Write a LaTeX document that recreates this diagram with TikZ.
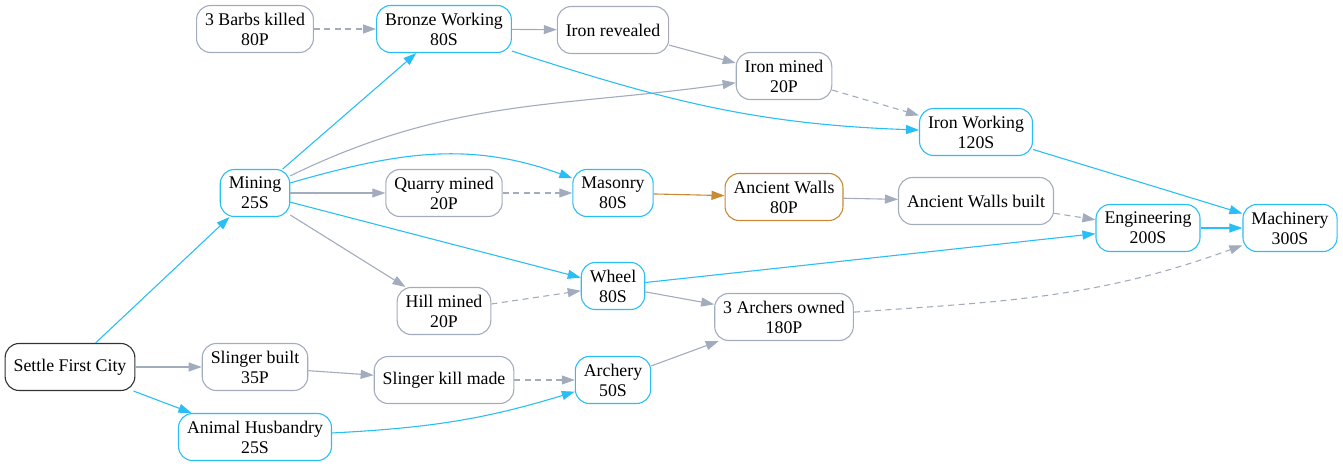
\documentclass[tikz,border=0pt]{standalone}
\usepackage{fontspec}
\setmainfont{Liberation Serif}
\usetikzlibrary{arrows.meta}

\definecolor{techblue}{HTML}{29BFF5}
\definecolor{stepgray}{HTML}{A2ACBD}
\definecolor{wallorange}{HTML}{C98A35}

\begin{document}
\begin{tikzpicture}[
    % GLOBAL CFG
    x=1pt, y=-1pt,
    font=\fontsize{17.8}{20}\selectfont,
    >={Triangle[length=13pt,width=9pt]},
    % Styles
    box/.style={
        rectangle,
        rounded corners=14pt,
        draw,
        line width=1.1pt,
        align=center,
        minimum height=47pt,
        inner xsep=8.5pt,
    },
    start/.style={box, draw=black!80},
    tech/.style={box, draw=techblue},
    goal/.style={box, draw=stepgray},
    wall/.style={box, draw=wallorange},
    techlink/.style={->, draw=techblue, line width=1.1pt},
    goallink/.style={->, draw=stepgray, line width=1.1pt},
    waitlink/.style={->, draw=stepgray, line width=1.1pt, dash pattern=on 6pt off 4.5pt},
    walllink/.style={->, draw=wallorange, line width=1.1pt},
]
\useasboundingbox (0,0) rectangle (1343,466);

% Column 1
    \node [start] (settle) at (70,367) {Settle First City};

% Column 2
    \node [goal] (barbs) at (255,29) {3 Barbs killed\\80P};
    \node [tech] (mining) at (255,193) {Mining\\25S};
    \node [goal] (slinger) at (255,367) {Slinger built\\35P};
    \node [tech] (animal) at (255,437) {Animal Husbandry\\25S};

% Column 3
    \node [tech] (bronze) at (444,29) {Bronze Working\\80S};
    \node [goal] (quarry) at (444,193) {Quarry mined\\20P};
    \node [goal] (hill) at (444,311) {Hill mined\\20P};
    \node [goal] (slingkill) at (444,380) {Slinger kill made};

% Column 4
    \node [goal] (ironrev) at (613,30) {Iron revealed};
    \node [tech] (masonry) at (613,193) {Masonry\\80S};
    \node [tech] (wheel) at (613,286) {Wheel\\80S};
    \node [tech] (archery) at (613,380) {Archery\\50S};

% Column 5
    \node [goal] (ironmined) at (784,76) {Iron mined\\20P};
    \node [wall] (walls) at (784,197) {Ancient Walls\\80P};
    \node [goal] (archers) at (784,317) {3 Archers owned\\180P};

% Column 6
    \node [tech] (ironwork) at (976,132) {Iron Working\\120S};
    \node [goal] (wallsbuilt) at (976,201) {Ancient Walls built};

% Columns 7 and 8
    \node [tech] (engineering) at (1148,228) {Engineering\\200S};
    \node [tech] (machinery) at (1290,228) {Machinery\\300S};

% Connect all
    % From the city
    \draw [techlink] (settle) -- (mining);
    \draw [goallink] (settle) -- (slinger);
    \draw [techlink] (settle) -- (animal);

    % From mining
    \draw [techlink] (mining) -- (bronze);
    \draw [goallink] (mining) to[out=26, in=188] (ironmined);
    \draw [techlink] (mining) to[out=16, in=160] (masonry);
    \draw [goallink] (mining) -- (quarry);
    \draw [techlink] (mining) -- (wheel);
    \draw [goallink] (mining) -- (hill);

    % Bronze and iron
    \draw [waitlink] (barbs) -- (bronze);
    \draw [goallink] (bronze) -- (ironrev);
    \draw [techlink] (bronze) to[out=-18, in=178] (ironwork);
    \draw [goallink] (ironrev) -- (ironmined);
    \draw [waitlink] (ironmined) -- (ironwork);

    % Masonry and walls
    \draw [waitlink] (quarry) -- (masonry);
    \draw [walllink] (masonry) -- (walls);
    \draw [goallink] (walls) -- (wallsbuilt);
    \draw [waitlink] (wallsbuilt) -- (engineering);

    % Wheel and archery
    \draw [waitlink] (hill) -- (wheel);
    \draw [techlink] (wheel) -- (engineering);
    \draw [goallink] (wheel) -- (archers);
    \draw [goallink] (slinger) -- (slingkill);
    \draw [waitlink] (slingkill) -- (archery);
    \draw [techlink] (animal) to[out=3, in=197] (archery);
    \draw [goallink] (archery) -- (archers);

    % Into machinery
    \draw [waitlink] (archers) to[out=4, in=200] (machinery);
    \draw [techlink] (ironwork) -- (machinery);
    \draw [techlink] (engineering) -- (machinery);

\end{tikzpicture}
\end{document}
